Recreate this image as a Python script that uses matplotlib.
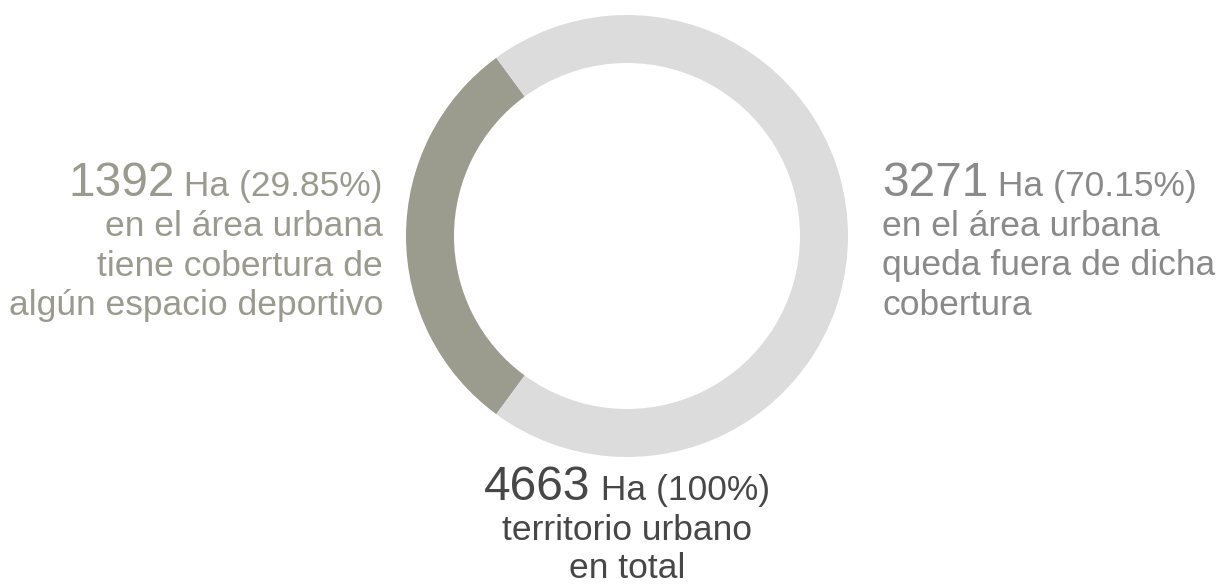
import matplotlib.pyplot as plt

# datos
hectareas = [1392, 3271]
porcentajes = ["29.85%", "70.15%"]
total_ha = 4663
etiquetas_izq = ["en el área urbana", "tiene cobertura de", "algún espacio deportivo"]
etiquetas_der = ["en el área urbana", "queda fuera de dicha", "cobertura"]
etiquetas_total = ["territorio urbano", "en total"]

col_oscuro = "#9c9c8e"
col_claro = "#dcdcdc"
txt_izq = "#9a9a8e"
txt_der = "#8a8a8a"
txt_total = "#474747"

W, H = 1220, 584
plt.rcParams['font.family'] = ['Liberation Sans', 'DejaVu Sans']
fig = plt.figure(figsize=(W / 100, H / 100), dpi=100)
ax = fig.add_axes([0, 0, 1, 1])

frac = hectareas[0] / sum(hectareas)
ax.pie(hectareas, center=(627, H - 236), radius=221,
       startangle=180 - frac * 180, counterclock=True,
       colors=[col_oscuro, col_claro],
       wedgeprops=dict(width=48, edgecolor='none'))
ax.set_xlim(0, W)
ax.set_ylim(0, H)
ax.set_aspect('equal')
ax.axis('off')

big, small = 34.5, 25.5
renderer = fig.canvas.get_renderer()


def ancho(t):
    # ancho del texto en pixeles
    return t.get_window_extent(renderer=renderer).width


def linea_titulo(num, resto, x, y, color, ha):
    t1 = ax.text(0, H - y, num, fontsize=big, color=color, va='baseline', ha='left')
    t2 = ax.text(0, H - y, resto, fontsize=small, color=color, va='baseline', ha='left')
    w1, w2 = ancho(t1), ancho(t2)
    if ha == 'left':
        x0 = x
    elif ha == 'right':
        x0 = x - w1 - w2
    else:
        x0 = x - (w1 + w2) / 2
    t1.set_x(x0)
    t2.set_x(x0 + w1)


# bloque izquierdo
linea_titulo(str(hectareas[0]), " Ha (%s)" % porcentajes[0], 383, 196, txt_izq, 'right')
for i, s in enumerate(etiquetas_izq):
    ax.text(383, H - (236 + 39.5 * i), s, fontsize=small, color=txt_izq,
            ha='right', va='baseline')

# bloque derecho
linea_titulo(str(hectareas[1]), " Ha (%s)" % porcentajes[1], 882, 196, txt_der, 'left')
for i, s in enumerate(etiquetas_der):
    ax.text(882, H - (236 + 39.5 * i), s, fontsize=small, color=txt_der,
            ha='left', va='baseline')

# total
linea_titulo(str(total_ha), " Ha (100%)", 627, 500, txt_total, 'center')
for i, s in enumerate(etiquetas_total):
    ax.text(627, H - (540 + 38.5 * i), s, fontsize=small, color=txt_total,
            ha='center', va='baseline')

fig.savefig("out.png", dpi=100)
